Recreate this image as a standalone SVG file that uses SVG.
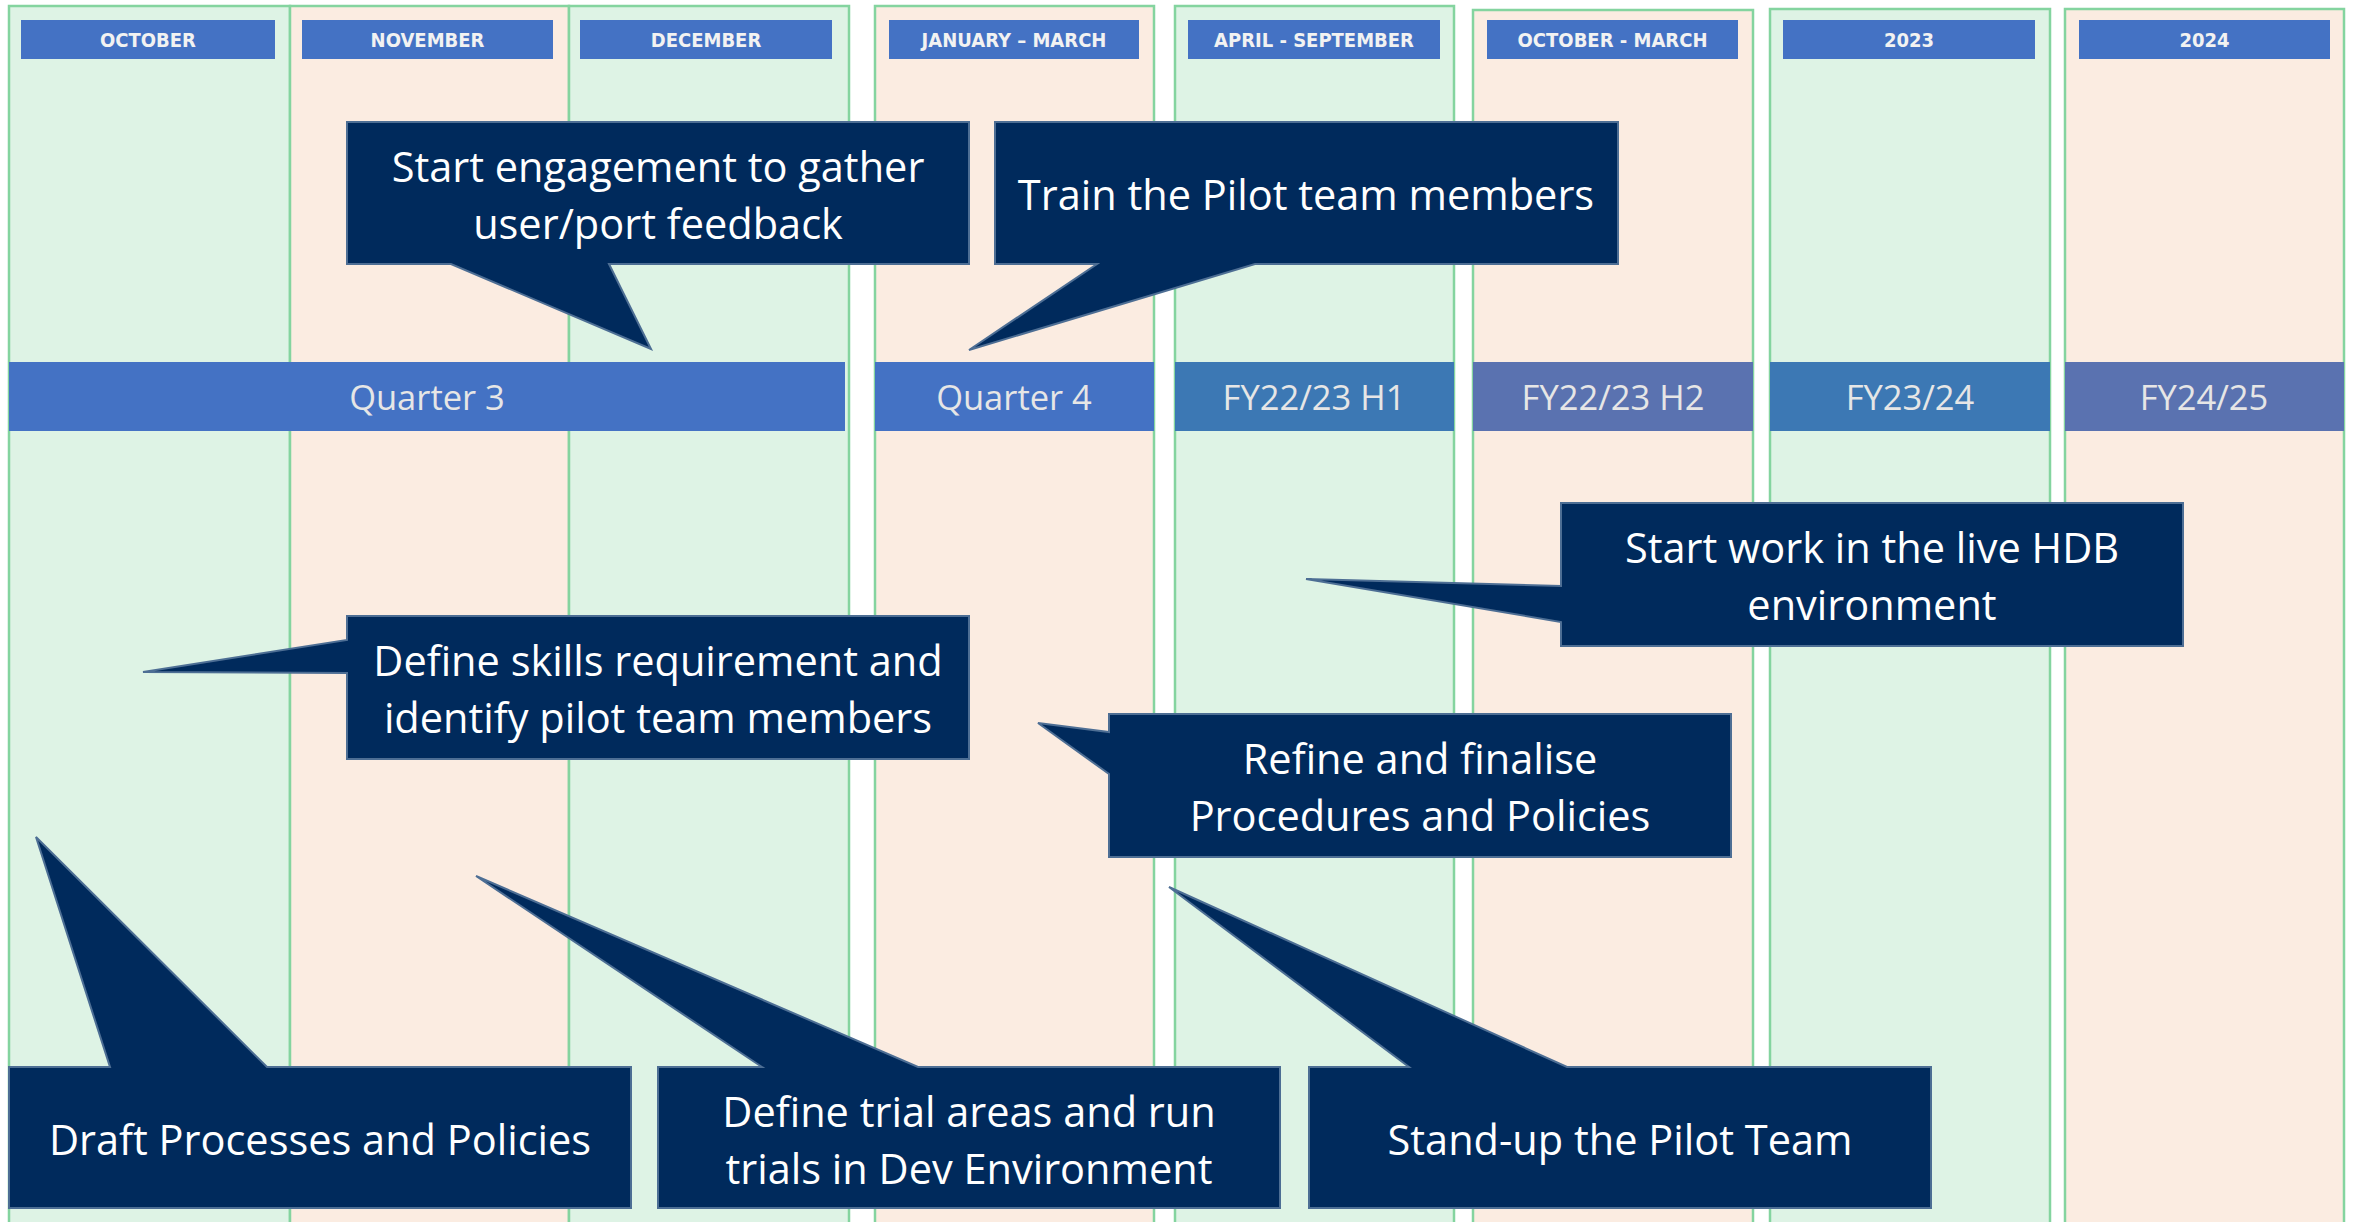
<svg xmlns="http://www.w3.org/2000/svg" width="2356" height="1222" viewBox="0 0 2356 1222">
<style>
.g{fill:#DEF3E5;stroke:#84D49F;stroke-width:2.5}
.p{fill:#FBECE1;stroke:#84D49F;stroke-width:2.5}
.hb{fill:#4472C4}
.ht{font-family:"DejaVu Sans Condensed","DejaVu Sans",sans-serif;font-stretch:condensed;font-weight:bold;font-size:20px;fill:#F2F2F2;text-anchor:middle}
.bt{font-family:"Open Sans",sans-serif;font-size:34.5px;fill:#E6E6E6;text-anchor:middle}
.c{fill:#002A5C;stroke:#4D6E94;stroke-width:2;stroke-linejoin:miter}
.ct{font-family:"Open Sans",sans-serif;font-size:41.5px;fill:#FFFFFF;text-anchor:middle}
</style>
<rect width="2356" height="1222" fill="#FFFFFF"/>
<g id="columns">
<rect class="g" x="9" y="6" width="281" height="1230"/>
<rect class="p" x="290" y="6" width="279" height="1230"/>
<rect class="g" x="569" y="6" width="280" height="1230"/>
<rect class="p" x="875" y="6" width="279" height="1230"/>
<rect class="g" x="1175" y="6" width="279" height="1230"/>
<rect class="p" x="1473" y="10" width="280" height="1230"/>
<rect class="g" x="1770" y="9" width="280" height="1230"/>
<rect class="p" x="2065" y="9" width="279" height="1230"/>
</g>
<g id="headers">
<rect class="hb" x="21" y="20" width="254" height="39"/><text class="ht" x="148" y="47">OCTOBER</text>
<rect class="hb" x="302" y="20" width="251" height="39"/><text class="ht" x="427.5" y="47">NOVEMBER</text>
<rect class="hb" x="580" y="20" width="252" height="39"/><text class="ht" x="706" y="47">DECEMBER</text>
<rect class="hb" x="889" y="20" width="250" height="39"/><text class="ht" x="1014" y="47">JANUARY – MARCH</text>
<rect class="hb" x="1188" y="20" width="252" height="39"/><text class="ht" x="1314" y="47">APRIL - SEPTEMBER</text>
<rect class="hb" x="1487" y="20" width="251" height="39"/><text class="ht" x="1612.5" y="47">OCTOBER - MARCH</text>
<rect class="hb" x="1783" y="20" width="252" height="39"/><text class="ht" x="1909" y="47">2023</text>
<rect class="hb" x="2079" y="20" width="251" height="39"/><text class="ht" x="2204.5" y="47">2024</text>
</g>
<g id="periods">
<rect x="9" y="362" width="836" height="69" fill="#4472C4"/><text class="bt" x="427" y="410">Quarter 3</text>
<rect x="875" y="362" width="279" height="69" fill="#4472C4"/><text class="bt" x="1014" y="410">Quarter 4</text>
<rect x="1175" y="362" width="279" height="69" fill="#3C78B4"/><text class="bt" x="1314" y="410">FY22/23 H1</text>
<rect x="1473" y="362" width="280" height="69" fill="#5A72B0"/><text class="bt" x="1613" y="410">FY22/23 H2</text>
<rect x="1770" y="362" width="280" height="69" fill="#3C78B4"/><text class="bt" x="1910" y="410">FY23/24</text>
<rect x="2065" y="362" width="279" height="69" fill="#5A72B0"/><text class="bt" x="2204" y="410">FY24/25</text>
</g>
<g id="connectors"/>
<g id="callout-engagement">
<path class="c" d="M347,122 H969 V264 H609 L651,349 L451,264 H347 Z"/>
<text class="ct" x="658" y="182">Start engagement to gather</text>
<text class="ct" x="658" y="239">user/port feedback</text>
</g>
<g id="callout-train">
<path class="c" d="M995,122 H1618 V264 H1255 L969,350 L1097,264 H995 Z"/>
<text class="ct" x="1306" y="210">Train the Pilot team members</text>
</g>
<g id="callout-live">
<path class="c" d="M1561,503 H2183 V646 H1561 V622 L1306,579 L1561,586 Z"/>
<text class="ct" x="1872" y="563">Start work in the live HDB</text>
<text class="ct" x="1872" y="620">environment</text>
</g>
<g id="callout-skills">
<path class="c" d="M347,616 H969 V759 H347 V673 L143,672 L347,640 Z"/>
<text class="ct" x="658" y="676">Define skills requirement and</text>
<text class="ct" x="658" y="733">identify pilot team members</text>
</g>
<g id="callout-refine">
<path class="c" d="M1109,714 H1731 V857 H1109 V774 L1038,723 L1109,732 Z"/>
<text class="ct" x="1420" y="774">Refine and finalise</text>
<text class="ct" x="1420" y="831">Procedures and Policies</text>
</g>
<g id="callout-draft">
<path class="c" d="M9,1067 H110 L36,837 L267,1067 H631 V1208 H9 Z"/>
<text class="ct" x="320" y="1155">Draft Processes and Policies</text>
</g>
<g id="callout-trials">
<path class="c" d="M658,1067 H762 L476,876 L918,1067 H1280 V1208 H658 Z"/>
<text class="ct" x="969" y="1127">Define trial areas and run</text>
<text class="ct" x="969" y="1184">trials in Dev Environment</text>
</g>
<g id="callout-standup">
<path class="c" d="M1309,1067 H1409 L1169,887 L1567,1067 H1931 V1208 H1309 Z"/>
<text class="ct" x="1620" y="1155">Stand-up the Pilot Team</text>
</g>
</svg>
